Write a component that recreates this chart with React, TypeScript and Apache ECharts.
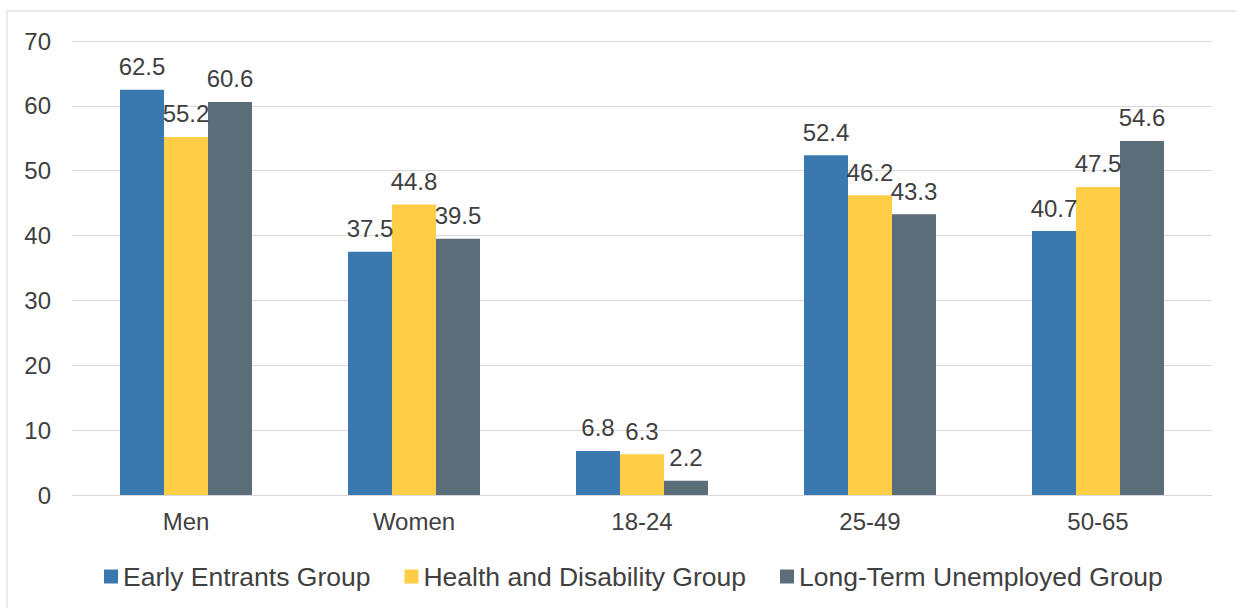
import React, { useEffect, useRef } from "react";
import * as echarts from "echarts";

const categories = ["Men", "Women", "18-24", "25-49", "50-65"];
const earlyEntrants = [62.5, 37.5, 6.8, 52.4, 40.7];
const healthDisability = [55.2, 44.8, 6.3, 46.2, 47.5];
const longTermUnemployed = [60.6, 39.5, 2.2, 43.3, 54.6];
const seriesNames = ["Early Entrants Group", "Health and Disability Group", "Long-Term Unemployed Group"];
const colors = ["#3A78B0", "#FFCD46", "#5B6D79"];

export default function App() {
  const ref = useRef<HTMLDivElement>(null);
  useEffect(() => {
    if (!ref.current) return;
    const chart = echarts.init(ref.current, null, { renderer: "svg" });
    const font = "'Liberation Sans', Arial, sans-serif";
    const mk = (name: string, data: number[], color: string) => ({
      name,
      type: "bar",
      data,
      barGap: "0%",
      barCategoryGap: "42.1%",
      itemStyle: { color },
      label: {
        show: true,
        position: "top",
        distance: 11,
        color: "#404040",
        fontSize: 24,
        fontFamily: font,
        formatter: (p: any) => p.value.toFixed(1),
      },
    });
    chart.setOption({
      animation: false,
      color: colors,
      graphic: [
        {
          type: "rect",
          shape: { x: 7, y: 11, width: 1260, height: 620 },
          style: { fill: "none", stroke: "#E3E3E3", lineWidth: 1.5 },
          silent: true,
        },
      ],
      grid: { left: 72, right: 24, top: 41, bottom: 113, containLabel: false },
      legend: {
        data: seriesNames,
        left: 99,
        top: 558,
        itemWidth: 14,
        itemHeight: 14,
        itemGap: 34,
        icon: "rect",
        textStyle: { color: "#404040", fontSize: 26.5, fontFamily: font },
      },
      xAxis: {
        type: "category",
        data: categories,
        axisLine: { show: true, lineStyle: { color: "#D9D9D9", width: 1 } },
        axisTick: { show: false },
        axisLabel: { color: "#404040", fontSize: 24, fontFamily: font, margin: 14 },
      },
      yAxis: {
        type: "value",
        min: 0,
        max: 70,
        interval: 10,
        axisLine: { show: false },
        axisTick: { show: false },
        splitLine: { lineStyle: { color: "#D9D9D9", width: 1 } },
        axisLabel: { color: "#404040", fontSize: 24, fontFamily: font, margin: 21 },
      },
      series: [
        mk(seriesNames[0], earlyEntrants, colors[0]),
        mk(seriesNames[1], healthDisability, colors[1]),
        mk(seriesNames[2], longTermUnemployed, colors[2]),
      ],
    });
    return () => chart.dispose();
  }, []);
  return (
    <div
      ref={ref}
      style={{ position: "fixed", left: 0, top: 0, width: 1236, height: 608, background: "#fff" }}
    />
  );
}
